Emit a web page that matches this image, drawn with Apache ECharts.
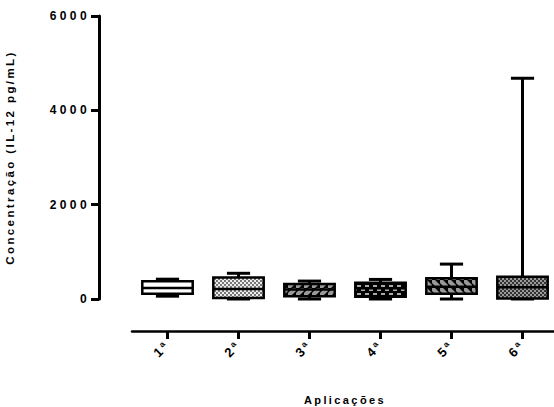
<!DOCTYPE html>
<html>
<head>
<meta charset="utf-8">
<script src="https://cdn.jsdelivr.net/npm/echarts@6/dist/echarts.min.js"></script>
<style>
html,body{margin:0;padding:0;background:#fff}
#chart{width:554px;height:407px}
#chart text{letter-spacing:2.4px}
#chart text[style*="12px"]{letter-spacing:3.4px}
</style>
</head>
<body>
<div id="chart"></div>
<script>
// box plot values per application (pg/mL)
var categories = ['1ª', '2ª', '3ª', '4ª', '5ª', '6ª'];
var minValues = [60, 0, 0, 0, 0, 0];
var q1Values = [110, 20, 60, 50, 110, 10];
var medianValues = [235, 210, 200, 230, 260, 250];
var q3Values = [375, 455, 320, 345, 440, 470];
var maxValues = [420, 545, 380, 415, 740, 4680];
var yTicks = [0, 2000, 4000, 6000];
var fills = ['plain', 'checker', 'slash', 'dash', 'backslash', 'darkchecker'];

var FONT = '"Liberation Sans", Arial, sans-serif';

function makePattern(kind) {
  var c = document.createElement('canvas');
  c.width = 8; c.height = 8;
  var g = c.getContext('2d');
  if (kind === 'plain') {
    g.fillStyle = '#fff'; g.fillRect(0, 0, 8, 8);
  } else if (kind === 'checker' || kind === 'darkchecker') {
    g.fillStyle = kind === 'checker' ? '#eee' : '#333';
    g.fillRect(0, 0, 8, 8);
    g.fillStyle = kind === 'checker' ? '#777' : '#999';
    for (var i = 0; i < 8; i += 2) {
      for (var j = 0; j < 8; j += 2) {
        if (((i + j) / 2) % 2 === 0) g.fillRect(i, j, 2, 2);
      }
    }
  } else if (kind === 'slash' || kind === 'backslash') {
    g.fillStyle = '#000'; g.fillRect(0, 0, 8, 8);
    g.fillStyle = '#999';
    g.beginPath();
    if (kind === 'slash') {
      g.moveTo(0, 8); g.lineTo(3, 8); g.lineTo(8, 3); g.lineTo(8, 0); g.lineTo(5, 0); g.lineTo(0, 5);
    } else {
      g.moveTo(0, 0); g.lineTo(3, 0); g.lineTo(8, 5); g.lineTo(8, 8); g.lineTo(5, 8); g.lineTo(0, 3);
    }
    g.closePath(); g.fill();
  } else if (kind === 'dash') {
    g.fillStyle = '#000'; g.fillRect(0, 0, 8, 8);
    g.fillStyle = '#aaa';
    g.fillRect(1, 1, 4, 2);
    g.fillRect(5, 5, 3, 2);
    g.fillRect(0, 5, 1, 2);
  }
  return { image: c, repeat: 'repeat', imageWidth: 8, imageHeight: 8 };
}

var boxData = categories.map(function (c, i) {
  return [i, minValues[i], q1Values[i], medianValues[i], q3Values[i], maxValues[i]];
});

function renderBox(params, api) {
  var idx = api.value(0);
  var pMin = api.coord([idx, api.value(1)]);
  var pQ1 = api.coord([idx, api.value(2)]);
  var pMed = api.coord([idx, api.value(3)]);
  var pQ3 = api.coord([idx, api.value(4)]);
  var pMax = api.coord([idx, api.value(5)]);
  var band = api.size([1, 0])[0];
  var bw = band * 0.71;
  var cw = bw * 0.46;
  var cx = pMed[0];
  var line = { stroke: '#000', lineWidth: 3 };
  return {
    type: 'group',
    children: [
      { type: 'line', shape: { x1: cx, y1: pMax[1], x2: cx, y2: pMin[1] }, style: line },
      { type: 'line', shape: { x1: cx - cw / 2, y1: pMax[1], x2: cx + cw / 2, y2: pMax[1] }, style: line },
      { type: 'line', shape: { x1: cx - cw / 2, y1: pMin[1], x2: cx + cw / 2, y2: pMin[1] }, style: line },
      { type: 'rect', shape: { x: cx - bw / 2, y: pQ3[1], width: bw, height: pQ1[1] - pQ3[1] },
        style: { fill: makePattern(fills[params.dataIndex]), stroke: '#000', lineWidth: 2.5 } },
      { type: 'line', shape: { x1: cx - bw / 2, y1: pMed[1], x2: cx + bw / 2, y2: pMed[1] },
        style: { stroke: '#000', lineWidth: 2.5 } }
    ]
  };
}

var chart = echarts.init(document.getElementById('chart'), null, { renderer: 'svg' });
chart.setOption({
  animation: false,
  backgroundColor: '#fff',
  grid: { left: 132, top: 16, width: 426, height: 283, outerBoundsMode: 'none', containLabel: false },
  xAxis: {
    type: 'category',
    data: categories,
    offset: 32,
    name: 'Aplicações',
    nameLocation: 'middle',
    nameGap: 63,
    nameTextStyle: { color: '#000', fontFamily: FONT, fontWeight: 'bold', fontSize: 11 },
    axisLine: { onZero: false, lineStyle: { color: '#000', width: 2.5 } },
    axisTick: { show: true, alignWithLabel: true, length: 8, lineStyle: { color: '#000', width: 3 } },
    axisLabel: { rotate: 45, margin: 12, color: '#000', fontFamily: FONT, fontWeight: 'bold', fontSize: 13 },
    splitLine: { show: false }
  },
  yAxis: {
    type: 'value',
    min: yTicks[0],
    max: yTicks[yTicks.length - 1],
    interval: yTicks[1] - yTicks[0],
    offset: 33,
    name: 'Concentração (IL-12 pg/mL)',
    nameLocation: 'middle',
    nameGap: 83,
    nameTextStyle: { color: '#000', fontFamily: FONT, fontWeight: 'bold', fontSize: 11.5 },
    axisLine: { show: true, lineStyle: { color: '#000', width: 3 } },
    axisTick: { show: true, length: 8, lineStyle: { color: '#000', width: 3 } },
    axisLabel: {
      margin: 9, color: '#000', fontFamily: FONT, fontWeight: 'bold', fontSize: 12,
      formatter: function (v) { return String(v); }
    },
    splitLine: { show: false }
  },
  series: [{
    type: 'custom',
    renderItem: renderBox,
    encode: { x: 0, y: [1, 2, 3, 4, 5] },
    data: boxData
  }]
});
</script>
</body>
</html>
